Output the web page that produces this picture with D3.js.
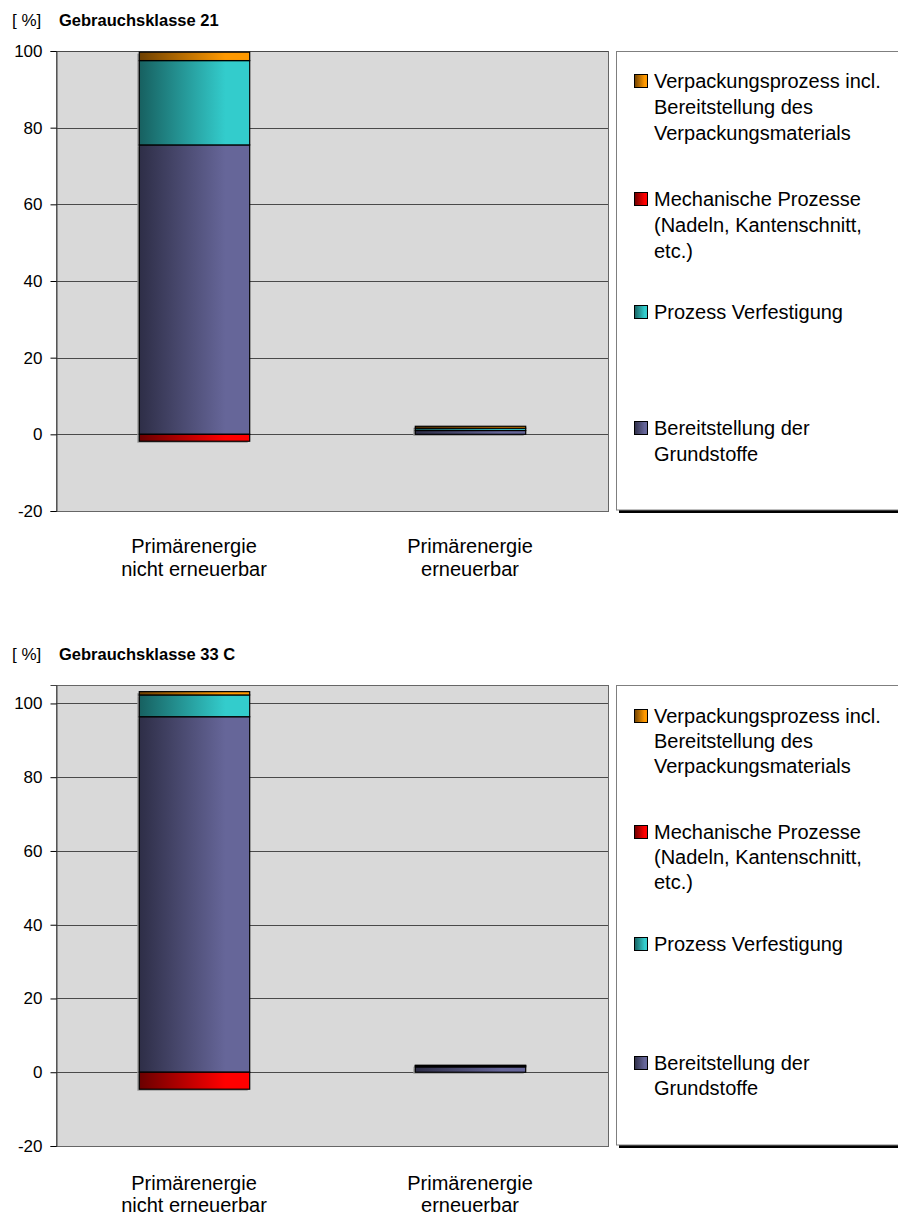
<!DOCTYPE html>
<html>
<head>
<meta charset="utf-8">
<script src="https://cdn.jsdelivr.net/npm/d3@7"></script>
<style>
  html, body { margin: 0; padding: 0; background: #fff; }
  svg { display: block; font-family: "Liberation Sans", Arial, sans-serif; }
</style>
</head>
<body>
<svg id="chart" width="898" height="1215"></svg>
<script>
// Categories on the x axis (two-line labels)
const categories = ["nicht", "ern"];
const categoryLines = [["Primärenergie", "nicht erneuerbar"], ["Primärenergie", "erneuerbar"]];

// Series, in stacking order (bottom to top)
const seriesKeys = ["grund", "verf", "mech", "verp"];
const seriesLegend = {
  grund: ["Bereitstellung der", "Grundstoffe"],
  verf: ["Prozess Verfestigung"],
  mech: ["Mechanische Prozesse", "(Nadeln, Kantenschnitt,", "etc.)"],
  verp: ["Verpackungsprozess incl.", "Bereitstellung des", "Verpackungsmaterials"]
};

// Gebrauchsklasse 21 – share of primary energy [%]
const gk21Grundstoffe   = [75.5, 1.0];
const gk21Verfestigung  = [22.0, 0.6];
const gk21Mechanisch    = [-1.8, 0.0];
const gk21Verpackung    = [2.2, 0.5];

// Gebrauchsklasse 33 C – share of primary energy [%]
const gk33Grundstoffe   = [96.4, 1.45];
const gk33Verfestigung  = [5.9, 0.3];
const gk33Mechanisch    = [-4.6, 0.0];
const gk33Verpackung    = [0.9, 0.15];

// Tick labels of the value axis
const yTicks = [-20, 0, 20, 40, 60, 80, 100];

// Fill gradient endpoints per series: dark (left) to bright (right)
const seriesColors = {
  grund: ["#2e2e47", "#666699"],
  verf:  ["#176060", "#33cccc"],
  mech:  ["#6a0000", "#ff0000"],
  verp:  ["#6e4000", "#ff9900"]
};

const svg = d3.select("#chart");
const defs = svg.append("defs");
seriesKeys.forEach(k => {
  const g = defs.append("linearGradient").attr("id", "grad-" + k)
    .attr("x1", "0%").attr("x2", "100%").attr("y1", "0%").attr("y2", "0%");
  g.append("stop").attr("offset", "0%").attr("stop-color", seriesColors[k][0]);
  g.append("stop").attr("offset", "78%").attr("stop-color", seriesColors[k][1]);
  g.append("stop").attr("offset", "100%").attr("stop-color", seriesColors[k][1]);
});

function drawChart(cfg) {
  const root = svg.append("g");
  const rows = categories.map((c, i) => ({
    cat: c,
    grund: cfg.grund[i], verf: cfg.verf[i], mech: cfg.mech[i], verp: cfg.verp[i]
  }));

  const x = d3.scaleBand().domain(categories)
    .range([cfg.left, cfg.right]).paddingInner(0.6).paddingOuter(0.3);
  const y = d3.scaleLinear().domain(cfg.yDomain).range([cfg.bottom, cfg.top]);

  // Title
  root.append("text").attr("x", 12).attr("y", cfg.titleY - 0.5)
    .attr("font-size", 17).attr("fill", "#000").text("[ %]");
  root.append("text").attr("x", 59).attr("y", cfg.titleY)
    .attr("font-size", 16.5).attr("font-weight", "bold").attr("fill", "#000")
    .text(cfg.title);

  // Plot area
  root.append("rect").attr("x", cfg.left + 0.5).attr("y", cfg.top + 0.5)
    .attr("width", cfg.right - cfg.left).attr("height", cfg.bottom - cfg.top)
    .attr("fill", "#d9d9d9").attr("stroke", "#666").attr("stroke-width", 1);

  // Grid lines
  root.append("g").selectAll("line").data(yTicks.filter(t => t > cfg.yDomain[0]))
    .join("line")
    .attr("x1", cfg.left).attr("x2", cfg.right)
    .attr("y1", d => Math.round(y(d)) + 0.5).attr("y2", d => Math.round(y(d)) + 0.5)
    .attr("stroke", "#4a4a4a").attr("stroke-width", 1);

  // Value axis
  const axis = d3.axisLeft(y).tickValues(yTicks).tickSize(6).tickPadding(8)
    .tickFormat(d => String(d));
  const ag = root.append("g").attr("transform", `translate(${cfg.left + 0.5},0)`).call(axis);
  ag.select(".domain").attr("stroke", "#444");
  ag.selectAll(".tick line").attr("stroke", "#000");
  ag.selectAll(".tick text").attr("font-size", 17).attr("fill", "#000")
    .attr("font-family", "Liberation Sans, Arial, sans-serif");

  // Stacked bars (positive up, negative down)
  const stack = d3.stack().keys(seriesKeys).offset(d3.stackOffsetDiverging);
  const layers = stack(rows);
  const shadow = root.append("g");
  const bars = root.append("g");
  layers.forEach(layer => {
    const k = layer.key;
    const segs = layer.filter(d => d[1] !== d[0]);
    shadow.append("g").selectAll("rect").data(segs)
      .join("rect")
      .attr("x", d => x(d.data.cat) - 1.5)
      .attr("y", d => y(Math.max(d[0], d[1])) + 1.5)
      .attr("width", x.bandwidth())
      .attr("height", d => Math.abs(y(d[0]) - y(d[1])))
      .attr("fill", "#9a9a9a");
    bars.append("g").selectAll("rect").data(segs)
      .join("rect")
      .attr("x", d => x(d.data.cat) + 0.5)
      .attr("y", d => y(Math.max(d[0], d[1])))
      .attr("width", x.bandwidth())
      .attr("height", d => Math.abs(y(d[0]) - y(d[1])))
      .attr("fill", `url(#grad-${k})`)
      .attr("stroke", "#000").attr("stroke-width", 1.2);
  });

  // Category labels
  categoryLines.forEach((lines, i) => {
    const cx = x(categories[i]) + x.bandwidth() / 2;
    lines.forEach((ln, j) => {
      root.append("text").attr("x", cx).attr("y", cfg.catY + j * cfg.catLine)
        .attr("text-anchor", "middle").attr("font-size", 20).attr("fill", "#000")
        .text(ln);
    });
  });

  // Legend box with shadow
  const lx = cfg.legendLeft, lt = cfg.legendTop, lb = cfg.bottom;
  root.append("rect").attr("x", lx + 3).attr("y", lb - 1)
    .attr("width", 898 - lx).attr("height", 3).attr("fill", "#000");
  root.append("rect").attr("x", lx + 0.5).attr("y", lt + 0.5)
    .attr("width", 898 - lx + 2).attr("height", lb - lt - 1.5)
    .attr("fill", "#fff").attr("stroke", "#7f7f7f").attr("stroke-width", 1);

  const legendOrder = seriesKeys.slice().reverse();
  legendOrder.forEach((k, i) => {
    const base = lt + cfg.legendOffsets[i];
    root.append("rect").attr("x", lx + 18.5).attr("y", base - 13.5)
      .attr("width", 13).attr("height", 13)
      .attr("fill", `url(#grad-${k})`).attr("stroke", "#000").attr("stroke-width", 1);
    seriesLegend[k].forEach((ln, j) => {
      root.append("text").attr("x", lx + 38).attr("y", base + j * cfg.legendLine)
        .attr("font-size", 20).attr("fill", "#000").text(ln);
    });
  });
}

drawChart({
  title: "Gebrauchsklasse 21", titleY: 26,
  grund: gk21Grundstoffe, verf: gk21Verfestigung, mech: gk21Mechanisch, verp: gk21Verpackung,
  yDomain: [-20, 100], left: 56, right: 608, top: 51, bottom: 511,
  catY: 553, catLine: 23, legendLeft: 616, legendTop: 51,
  legendOffsets: [37, 155, 268, 384], legendLine: 26
});

drawChart({
  title: "Gebrauchsklasse 33 C", titleY: 660,
  grund: gk33Grundstoffe, verf: gk33Verfestigung, mech: gk33Mechanisch, verp: gk33Verpackung,
  yDomain: [-20, 105], left: 56, right: 608, top: 685, bottom: 1146,
  catY: 1190, catLine: 22, legendLeft: 616, legendTop: 685,
  legendOffsets: [38, 154, 266, 385], legendLine: 25
});
</script>
</body>
</html>
